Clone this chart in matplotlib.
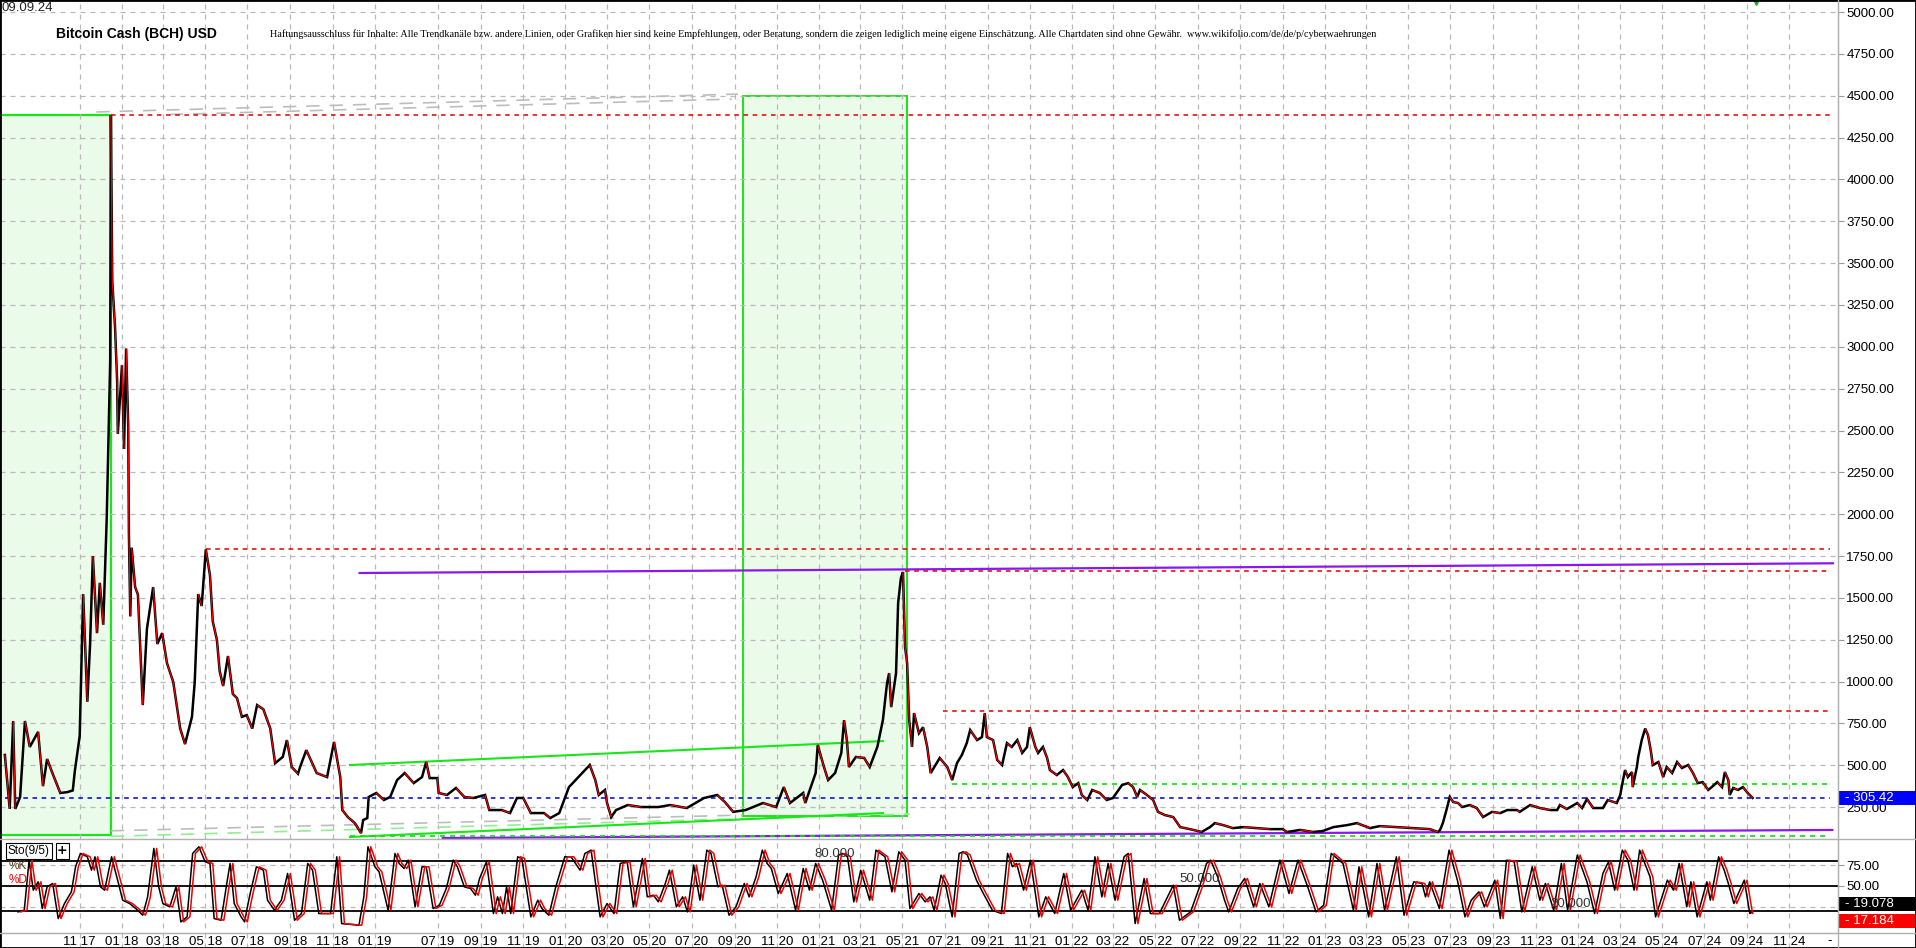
import numpy as np
import pandas as pd
import matplotlib
matplotlib.use("Agg")
import matplotlib.pyplot as plt
from matplotlib.collections import LineCollection
from matplotlib.patches import Rectangle
from matplotlib.transforms import blended_transform_factory
from matplotlib.lines import Line2D

# ---- data -------------------------------------------------------------
# chart works on a bar axis: one bar per day from 2017-07-09,
# the feed has no bars for about 90 days in early 2019
start = pd.Timestamp("2017-07-09")
gap_start = pd.Timestamp("2019-01-12")
gap_days = 90

tick_dates = ["2017-11-01", "2018-01-01", "2018-03-01", "2018-05-01", "2018-07-01",
              "2018-09-01", "2018-11-01", "2019-01-01", "2019-07-01", "2019-09-01",
              "2019-11-01", "2020-01-01", "2020-03-01", "2020-05-01", "2020-07-01",
              "2020-09-01", "2020-11-01", "2021-01-01", "2021-03-01", "2021-05-01",
              "2021-07-01", "2021-09-01", "2021-11-01", "2022-01-01", "2022-03-01",
              "2022-05-01", "2022-07-01", "2022-09-01", "2022-11-01", "2023-01-01",
              "2023-03-01", "2023-05-01", "2023-07-01", "2023-09-01", "2023-11-01",
              "2024-01-01", "2024-03-01", "2024-05-01", "2024-07-01", "2024-09-01",
              "2024-11-01"]

price_ticks = list(range(250, 5001, 250))

# price (bar index, close)
price_bars = [7, 14, 19, 22, 29, 36, 43, 55, 62, 68, 76, 87, 97, 105, 108, 115, 120, 126, 130, 134,
              140, 144, 149, 154, 159, 160, 162, 166, 169, 170, 176, 179, 182, 185, 186, 188, 190, 195,
              199, 206, 212, 221, 227, 234, 241, 250, 260, 267, 277, 281, 286, 291, 297, 303, 307, 313,
              317, 322, 329, 336, 342, 349, 356, 364, 371, 380, 390, 397, 408, 414, 421, 430,
              433, 442, 457, 472, 482, 491, 494, 502, 512, 521, 524, 530, 532, 543, 554, 563, 573, 584,
              597, 609, 615, 620, 631, 633, 645, 658, 670, 683, 700, 706, 724, 736, 746, 755, 766, 785,
              794, 807, 821, 840, 851, 859, 864, 873, 876, 882, 889, 906, 925, 950, 967, 991, 1016, 1035,
              1046, 1058, 1076, 1101, 1120, 1131, 1140, 1159, 1162, 1170, 1177, 1180, 1189, 1195, 1205,
              1214, 1218, 1222, 1225, 1235, 1247, 1255, 1266, 1274, 1280, 1283, 1286, 1293, 1296, 1300,
              1303, 1306, 1309, 1312, 1316, 1319, 1326, 1332, 1338, 1343,
              1356, 1367, 1374, 1381, 1388, 1395, 1400, 1410, 1417, 1421, 1424, 1433, 1439, 1446, 1453,
              1460, 1468, 1475, 1482, 1486, 1494, 1498, 1505, 1511, 1515, 1525, 1534, 1541, 1548, 1556,
              1561, 1569, 1576, 1587, 1597, 1606, 1619, 1628, 1635, 1641, 1645, 1655, 1664, 1671, 1681,
              1693, 1703, 1717, 1734, 1746, 1753, 1765, 1779, 1794, 1814, 1833, 1851, 1857, 1876, 1895,
              1909, 1924, 1944, 1958, 1977, 1991, 2016, 2039, 2063, 2075,
              2078, 2082, 2088, 2092, 2097, 2104, 2110, 2121, 2131, 2140, 2153, 2165, 2175, 2189, 2193,
              2208, 2222, 2237, 2247, 2251, 2261, 2276, 2283, 2290, 2299, 2313, 2320, 2333, 2338, 2342,
              2345, 2349, 2355, 2356, 2362, 2364, 2369, 2374, 2378, 2382, 2385, 2393, 2400, 2405, 2413,
              2420, 2427, 2436, 2443, 2450, 2457, 2465, 2470, 2478, 2485, 2489, 2494, 2496, 2501, 2508,
              2515, 2522, 2529]
price_vals = [562, 240, 765, 240, 310, 765, 610, 700, 376, 538, 450, 335, 340, 350, 466, 675, 1523, 880, 1225, 1750,
              1290, 1590, 1340, 1975, 2915, 4385, 3393, 3118, 2800, 2480, 2890, 2390, 2990, 2530, 1890, 1390, 1800, 1565,
              1520, 860, 1315, 1565, 1225, 1290, 1110, 998, 720, 627, 790, 998, 1523, 1452, 1790, 1635, 1360, 1250,
              1063, 974, 1153, 926, 902, 790, 800, 720, 860, 835, 720, 513, 550, 651, 490, 450,
              490, 591, 454, 430, 640, 430, 233, 191, 155, 95, 173, 185, 311, 335, 293, 311, 412, 454,
              394, 430, 520, 424, 424, 335, 323, 365, 311, 305, 323, 233, 233, 215, 305, 305, 215, 215,
              185, 215, 370, 454, 502, 412, 323, 353, 275, 191, 233, 263, 251, 251, 263, 245, 305, 323,
              281, 222, 233, 275, 251, 370, 275, 335, 275, 370, 454, 621, 490, 412, 454,
              574, 770, 651, 490, 550, 544, 490, 610, 770, 991, 1051, 848, 1051, 1470, 1619,
              1655, 1207, 1111, 770, 610, 812, 692, 728, 610, 454,
              544, 490, 412, 514, 562, 633, 711, 651, 669, 812, 669, 651, 532, 502, 633,
              610, 651, 574, 610, 728, 610, 574, 610, 544, 472, 442, 472, 430, 370, 394,
              323, 293, 353, 335, 293, 305, 382, 394, 370, 311, 353, 323, 293, 222, 203,
              191, 131, 119, 102, 131, 155, 143, 125, 131, 125, 119, 119, 102, 114, 102,
              108, 131, 143, 155, 125, 137, 131, 125, 119, 102,
              114, 155, 245, 311, 281, 275, 251, 263, 245, 191, 222, 215, 233, 233, 222,
              263, 245, 233, 233, 263, 239, 275, 245, 299, 245, 245, 293, 275, 323, 412,
              472, 430, 460, 370, 490, 550, 651, 720, 681, 591, 502, 520, 430, 490, 454,
              520, 484, 502, 454, 394, 400, 353, 370, 400, 370, 460, 412, 323, 365, 353,
              370, 335, 305.42]

# stochastic %K (bar index, value)
sto_bars = [26, 35, 42, 48, 55, 61, 68, 76, 84, 93, 103, 109, 116, 126, 132, 137, 145, 151, 161, 171,
            177, 187, 196, 206, 213, 222, 229, 235, 245, 254, 261, 270, 278, 287, 296, 303, 309, 319,
            328, 332, 338, 348, 353, 357, 361, 370, 380, 386, 396, 406, 415, 425, 435, 444, 451, 460,
            477, 486, 493, 518, 525, 531, 541, 547, 560, 570, 576, 583, 589, 599, 609, 615, 625, 634,
            644, 654, 660, 670, 679, 686, 692, 702, 712, 718, 725, 731, 737, 747, 753, 766, 776, 782,
            792, 802, 815, 824, 837, 844, 853, 860, 866, 876, 886, 895, 905, 914, 927, 934, 943, 950,
            960, 966, 976, 985, 992, 1001,
            1010, 1020, 1026, 1036, 1042, 1052, 1062, 1074, 1081, 1091, 1100, 1107, 1113, 1123, 1136,
            1148, 1159, 1168, 1177, 1187, 1200, 1210, 1216, 1223, 1232, 1242, 1255, 1264, 1277, 1287,
            1297, 1306, 1313, 1326, 1335, 1342, 1348, 1358, 1364, 1374, 1384, 1390, 1396, 1409, 1419,
            1432, 1445, 1454, 1461, 1467, 1477, 1487, 1499, 1509, 1522, 1535, 1545, 1561, 1570, 1580,
            1590, 1599, 1609, 1622, 1628, 1638, 1651, 1660, 1673, 1693, 1702, 1718, 1731, 1741, 1747,
            1757, 1767, 1773, 1786, 1796, 1809, 1818, 1831, 1847, 1860, 1873,
            1887, 1899, 1910, 1921, 1938, 1953, 1961, 1975, 1987, 1998, 2015, 2026, 2040, 2052, 2057,
            2063, 2077, 2091, 2103, 2114, 2123, 2134, 2142, 2157, 2165, 2174, 2185, 2196, 2211, 2222,
            2230, 2242, 2253, 2262, 2276, 2290, 2301, 2313, 2321, 2330, 2341, 2349, 2358, 2366, 2381,
            2389, 2406, 2415, 2423, 2434, 2440, 2449, 2463, 2468, 2480, 2488, 2494, 2502, 2517, 2525,
            2529]
sto_k = [19, 21, 81, 45, 55, 23, 49, 53, 11, 29, 43, 73, 89, 85, 69, 85, 49, 45, 85, 53,
         33, 29, 23, 15, 37, 95, 49, 29, 25, 49, 7, 13, 89, 97, 79, 77, 11, 9,
         57, 77, 29, 13, 7, 25, 41, 73, 69, 33, 21, 33, 65, 9, 17, 77, 69, 17,
         17, 85, 5, 3, 37, 97, 73, 67, 21, 89, 77, 71, 81, 25, 73, 73, 23, 27,
         47, 81, 73, 49, 47, 39, 59, 79, 17, 37, 17, 49, 17, 85, 83, 13, 33, 23,
         15, 49, 85, 85, 69, 89, 93, 49, 13, 29, 17, 77, 79, 25, 83, 37, 39, 31,
         53, 69, 25, 37, 19, 75,
         33, 93, 89, 49, 51, 15, 25, 53, 37, 61, 93, 77, 71, 41, 65,
         21, 71, 45, 77, 57, 21, 87, 89, 85, 31, 69, 33, 93, 85, 43,
         91, 81, 23, 41, 31, 37, 21, 63, 53, 13, 89, 91, 87, 57, 41,
         21, 17, 89, 73, 77, 45, 81, 13, 37, 17, 65, 21, 45, 21, 85,
         37, 77, 33, 85, 89, 5, 59, 17, 17, 51, 9, 19, 49, 77, 81,
         61, 33, 19, 47, 59, 25, 53, 25, 81, 41, 81,
         49, 19, 27, 89, 77, 21, 73, 13, 77, 21, 85, 15, 55, 53, 37,
         55, 23, 93, 57, 13, 33, 43, 25, 57, 11, 81, 79, 19, 73, 33,
         53, 21, 77, 21, 87, 55, 17, 65, 79, 45, 93, 81, 45, 93, 61,
         13, 57, 45, 77, 25, 55, 13, 55, 33, 85, 69, 53, 29, 57, 17,
         19.078]
sto_last_k = 19.078
sto_last_d = 17.184
last_price = 305.42

title = "Bitcoin Cash (BCH) USD"
date_txt = "09.09.24"
disclaimer = ("Haftungsausschluss für Inhalte: Alle Trendkanäle bzw. andere Linien, oder Grafiken hier sind "
              "keine Empfehlungen, oder Beratung, sondern die zeigen lediglich meine eigene Einschätzung. "
              "Alle Chartdaten sind ohne Gewähr.  www.wikifolio.com/de/de/p/cyberwaehrungen")


def bar_of(date):
    d = pd.Timestamp(date)
    n = (d - start).days
    if d >= gap_start:
        n -= gap_days
    return n


tick_bars = [bar_of(d) for d in tick_dates]
tick_labels = [pd.Timestamp(d).strftime("%m %y") for d in tick_dates]

# ---- figure -----------------------------------------------------------
W, H = 1916, 948
fig = plt.figure(figsize=(W / 100, H / 100), dpi=100)
fig.patch.set_facecolor("white")
ax = fig.add_axes([0, 1 - 839 / H, 1838 / W, 839 / H])
sax = fig.add_axes([0, 15 / H, 1838 / W, 94 / H])

xmax = 1838 / 0.693
line_end = 2641
grid_kw = dict(color="#b9b9b9", lw=0.9, ls=(0, (4, 4)))
green = "#19e619"
purple = "#8a16f0"

ax.set_xlim(0, xmax)
ax.set_ylim(60, 5072)
ax.set_xticks(tick_bars)
ax.set_yticks(price_ticks)
ax.set_yticklabels(["%.2f" % v for v in price_ticks])
ax.grid(True, **grid_kw)
ax.yaxis.tick_right()
ax.tick_params(axis="y", labelsize=9.5, length=4, pad=2, colors="black")
ax.tick_params(axis="y", color="#999999")
ax.tick_params(axis="x", length=0, labelbottom=False)
for s in ["left", "top"]:
    ax.spines[s].set_visible(False)
for s in ["right", "bottom"]:
    ax.spines[s].set_color("#b0b0b0")
for lab in ax.get_yticklabels():
    lab.set_fontfamily("Liberation Sans")

# green boxes
ax.add_patch(Rectangle((0, 85), 160, 4385 - 85, fc="#eafbe9", ec=green, lw=1.6, zorder=1))
ax.add_patch(Rectangle((1072, 200), 1309 - 1072, 4500 - 200, fc="#eafbe9", ec=green, lw=1.4, zorder=1))

# trend lines
ax.plot([139, 1065], [4403, 4510], color="#bdbdbd", lw=1.2, ls=(0, (8, 6)), zorder=2)
ax.plot([245, 1056], [4388, 4480], color="#bdbdbd", lw=1.2, ls=(0, (8, 6)), zorder=2)
ax.plot([160, 1072], [109, 203], color="#bdbdbd", lw=1.2, ls=(0, (8, 6)), zorder=2)
ax.plot([160, 1313], [76, 209], color="#8ef08e", lw=1.2, ls=(0, (8, 6)), zorder=2)
ax.plot([505, 1274], [502, 645], color=green, lw=1.5, zorder=2)
ax.plot([505, 1274], [72, 215], color=green, lw=1.5, zorder=2)
ax.plot([519, 2645], [1649, 1707], color=purple, lw=1.6, zorder=2)
ax.plot([639, 2644], [66, 114], color=purple, lw=1.6, zorder=2)

dash = (0, (3, 3))
ax.plot([160, line_end], [4385, 4385], color="#e00000", lw=1.1, ls=dash, zorder=2)
ax.plot([297, line_end], [1790, 1790], color="#e00000", lw=1.1, ls=dash, zorder=2)
ax.plot([1306, line_end], [1660, 1660], color="#e00000", lw=1.1, ls=dash, zorder=2)
ax.plot([1361, line_end], [826, 826], color="#e00000", lw=1.1, ls=dash, zorder=2)
ax.plot([1374, line_end], [388, 388], color="#11dd11", lw=1.2, ls=dash, zorder=2)
ax.plot([505, line_end], [78, 78], color="#11dd11", lw=1.2, ls=dash, zorder=2)
ax.plot([7, line_end], [last_price, last_price], color="#0000c8", lw=1.1, ls=dash, zorder=2)

# price: black bars with red for falling stretches
ax.plot(price_bars, price_vals, color="black", lw=1.8, zorder=3, solid_joinstyle="miter")
pts = np.column_stack([price_bars, price_vals])
segs = np.stack([pts[:-1], pts[1:]], axis=1)
down = [b < a for a, b in zip(price_vals[:-1], price_vals[1:])]
ax.add_collection(LineCollection(segs[down], colors="#ff0000", linewidths=0.8, zorder=4))

ax.plot([2534], [5075], marker="v", color="#22aa22", ms=8, clip_on=False, zorder=5)

# right side value boxes
tr = blended_transform_factory(ax.transAxes, ax.transData)
bw = W / 1838 - 1.0
ax.add_patch(Rectangle((1.0, last_price - 40), bw, 80, transform=tr, fc="#0000ff",
                       ec="none", clip_on=False, zorder=6))
ax.text(1.004, last_price, "- %.2f" % last_price, transform=tr, color="white", fontsize=9.5,
        va="center", ha="left", family="Liberation Sans", zorder=7, clip_on=False)

# header texts
fig.text(2 / W, 1 - 8 / H, date_txt, fontsize=9.5, va="center", color="#222222", family="Liberation Sans")
fig.text(56 / W, 1 - 34 / H, title, fontsize=10, fontweight="bold", va="center", family="Liberation Sans")
fig.text(270 / W, 1 - 34 / H, disclaimer, fontsize=7.3, va="center", family="Liberation Serif")

# ---- stochastic panel -------------------------------------------------
sax.set_xlim(0, xmax)
sax.set_ylim(-6.3, 106.3)
for b in tick_bars:
    sax.axvline(b, ymin=-15 / 94, ymax=1, clip_on=False, zorder=0, **grid_kw)
for lv in [25, 75]:
    sax.axhline(lv, **grid_kw, zorder=0)
for lv in [20, 50, 80]:
    sax.axhline(lv, color="black", lw=1.3, zorder=1)

sbars = np.array(sto_bars)
sax.plot(sbars, sto_k, color="black", lw=1.1, zorder=3)
d_bars = np.minimum(sbars + 4, sbars[-1])
d_vals = list(sto_k[:-1]) + [sto_last_d]
sax.plot(d_bars, d_vals, color="#ee0000", lw=1.1, zorder=4)

sax.set_xticks(tick_bars)
sax.set_xticklabels(tick_labels)
sax.tick_params(axis="x", length=0, pad=2, labelsize=9.5)
for lab in sax.get_xticklabels():
    lab.set_fontfamily("Liberation Sans")
sax.yaxis.tick_right()
sax.set_yticks([50, 75])
sax.set_yticklabels(["50.00", "75.00"])
sax.tick_params(axis="y", labelsize=9.5, length=4, pad=2, color="#999999")
for lab in sax.get_yticklabels():
    lab.set_fontfamily("Liberation Sans")
sax.spines["left"].set_visible(False)
sax.spines["top"].set_visible(False)
for s in ["right", "bottom"]:
    sax.spines[s].set_color("#b0b0b0")

str_ = blended_transform_factory(sax.transAxes, sax.transData)
for val, ypos, col in [(sto_last_k, 28.4, "black"), (sto_last_d, 8.1, "#ff0000")]:
    sax.add_patch(Rectangle((1.0, ypos - 8), bw, 16, transform=str_, fc=col, ec="none",
                            clip_on=False, zorder=6))
    sax.text(1.004, ypos, "- %.3f" % val, transform=str_, color="white", fontsize=9.5,
             va="center", ha="left", family="Liberation Sans", zorder=7, clip_on=False)

for lv, px in [(80, 835), (50, 1200), (20, 1571)]:
    sax.text(px / 0.693, lv + 1, "%.3f" % lv, ha="center", va="bottom", fontsize=9.5,
             color="#333333", family="Liberation Sans", zorder=5)

fig.text(8 / W, 1 - 851 / H, "Sto(9/5)", fontsize=8.5, va="center", family="Liberation Sans",
         bbox=dict(boxstyle="square,pad=0.15", fc="white", ec="black", lw=0.8))
fig.text(57 / W, 1 - 851 / H, "+", fontsize=9, fontweight="bold", va="center", family="DejaVu Sans",
         bbox=dict(boxstyle="square,pad=0.1", fc="white", ec="black", lw=0.8))
fig.text(9 / W, 1 - 866 / H, "%K", fontsize=8.5, va="center", color="#5a3a1a", family="Liberation Sans")
fig.text(9 / W, 1 - 880 / H, "%D", fontsize=8.5, va="center", color="#ee0000", family="Liberation Sans")

# frame lines
fig.add_artist(Line2D([0, 1], [1 - 839 / H] * 2, color="#b0b0b0", lw=1))
fig.add_artist(Line2D([0, 1], [15 / H] * 2, color="#b0b0b0", lw=1))
fig.add_artist(Line2D([1838 / W] * 2, [0, 1], color="#b0b0b0", lw=1))
fig.add_artist(Rectangle((0, 0), 1, 1, transform=fig.transFigure, fill=False, ec="black", lw=2))
fig.text(1830 / W, 7 / H, "-", fontsize=9, va="center", ha="center")

fig.savefig("out.png", dpi=100)
